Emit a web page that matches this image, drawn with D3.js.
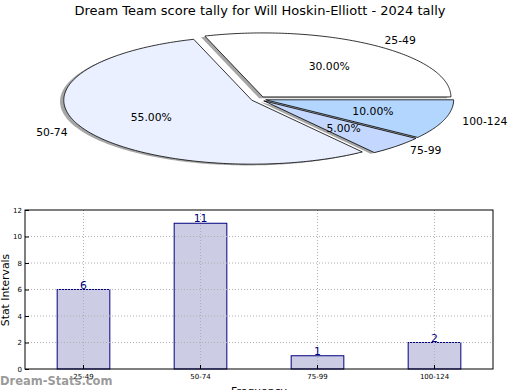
<!DOCTYPE html>
<html><head><meta charset="utf-8">
<script src="https://cdn.jsdelivr.net/npm/d3@7"></script>
<style>body{margin:0;background:#fff}svg{display:block;font-family:"DejaVu Sans",sans-serif}</style>
</head><body>
<svg id="c" width="520" height="390"></svg>
<script>
const categories = ["25-49", "50-74", "75-99", "100-124"];
const counts = [6, 11, 1, 2];
const pieColors = ["#ffffff", "#eaf0ff", "#c4d8ff", "#b3d6ff"];
const yTicks = [0, 2, 4, 6, 8, 10, 12];
const titleText = "Dream Team score tally for Will Hoskin-Elliott - 2024 tally";

const svg = d3.select("#c");
svg.append("text").attr("x", 260).attr("y", 15).attr("text-anchor", "middle")
  .attr("font-size", 13).text(titleText);

// ---- Pie ----
const cx = 258.5, cy = 99, rx = 188, ry = 64, explode = 0.04;
const px = d3.scaleLinear().domain([-1, 1]).range([cx - rx, cx + rx]);
const py = d3.scaleLinear().domain([-1, 1]).range([cy + ry, cy - ry]);
const total = d3.sum(counts);
const arcs = d3.pie().sort(null).startAngle(0).endAngle(2 * Math.PI)(counts);
const line = d3.line().x(d => px(d[0])).y(d => py(d[1]));
function wedgePts(a, ox, oy) {
  const mid = (a.startAngle + a.endAngle) / 2;
  const vx = explode * Math.cos(mid) + ox, vy = explode * Math.sin(mid) + oy;
  const pts = [[vx, vy]];
  const n = Math.max(4, Math.ceil((a.endAngle - a.startAngle) * 60));
  for (let i = 0; i <= n; i++) {
    const t = a.startAngle + (a.endAngle - a.startAngle) * i / n;
    pts.push([vx + Math.cos(t), vy + Math.sin(t)]);
  }
  pts.push([vx, vy]);
  return pts;
}
const pieG = svg.append("g");
arcs.forEach((a, i) => {
  pieG.append("path").attr("d", line(wedgePts(a, -0.02, -0.02)) + "Z")
    .attr("fill", "#4d4d4d").attr("fill-opacity", 0.5).attr("stroke", "none");
});
arcs.forEach((a, i) => {
  pieG.append("path").attr("d", line(wedgePts(a, 0, 0)) + "Z")
    .attr("fill", pieColors[i]).attr("stroke", "#000").attr("stroke-width", 0.8)
    .attr("stroke-linejoin", "round");
});
arcs.forEach((a, i) => {
  const mid = (a.startAngle + a.endAngle) / 2;
  const vx = explode * Math.cos(mid), vy = explode * Math.sin(mid);
  const lx = vx + 1.1 * Math.cos(mid), ly = vy + 1.1 * Math.sin(mid);
  pieG.append("text").attr("x", px(lx)).attr("y", py(ly)).attr("dy", "0.35em")
    .attr("text-anchor", lx > 0 ? "start" : "end").attr("font-size", 10.8)
    .text(categories[i]);
  const tx = vx + 0.6 * Math.cos(mid), ty = vy + 0.6 * Math.sin(mid);
  pieG.append("text").attr("x", px(tx)).attr("y", py(ty)).attr("dy", "0.35em")
    .attr("text-anchor", "middle").attr("font-size", 10.8)
    .text((counts[i] / total * 100).toFixed(2) + "%");
});

// ---- Bars ----
const L = 25, R = 493, T = 210, B = 369;
const x = d3.scaleBand().domain(categories).range([L, R]).paddingInner(0.55).paddingOuter(0.275);
const y = d3.scaleLinear().domain([0, 12]).range([B, T]);
const g = svg.append("g");
g.selectAll(".bar").data(categories).join("rect")
  .attr("x", d => x(d)).attr("width", x.bandwidth())
  .attr("y", (d, i) => y(counts[i])).attr("height", (d, i) => B - y(counts[i]))
  .attr("fill", "#ccccE5").attr("stroke", "#000080").attr("stroke-width", 1);
// grid (drawn above bars, as in the reference)
g.selectAll(".hg").data(yTicks.slice(1, -1)).join("line")
  .attr("x1", L).attr("x2", R).attr("y1", d => y(d)).attr("y2", d => y(d))
  .attr("stroke", "#b0b0b0").attr("stroke-dasharray", "1,2");
g.selectAll(".vg").data(categories).join("line")
  .attr("x1", d => x(d) + x.bandwidth() / 2).attr("x2", d => x(d) + x.bandwidth() / 2)
  .attr("y1", T).attr("y2", B)
  .attr("stroke", "#b0b0b0").attr("stroke-dasharray", "1,2");
g.selectAll(".val").data(categories).join("text")
  .attr("x", d => x(d) + x.bandwidth() / 2).attr("y", (d, i) => y(counts[i]) - 1)
  .attr("text-anchor", "middle").attr("font-size", 10.8).attr("fill", "#000080")
  .text((d, i) => counts[i]);
// frame
g.append("rect").attr("x", L).attr("y", T).attr("width", R - L).attr("height", B - T)
  .attr("fill", "none").attr("stroke", "#000").attr("stroke-width", 1);
// axes
const ya = d3.axisLeft(y).tickValues(yTicks).tickSize(-4).tickPadding(3);
svg.append("g").attr("transform", `translate(${L},0)`).call(ya)
  .call(s => s.select(".domain").remove())
  .call(s => s.selectAll("text").attr("font-size", 7).attr("font-family", "DejaVu Sans"))
  .call(s => s.selectAll("line").attr("stroke", "#000"));
const xa = d3.axisBottom(x).tickSize(-4).tickPadding(5);
svg.append("g").attr("transform", `translate(0,${B})`).call(xa)
  .call(s => s.select(".domain").remove())
  .call(s => s.selectAll("text").attr("font-size", 7).attr("font-family", "DejaVu Sans"))
  .call(s => s.selectAll("line").attr("stroke", "#000"));
svg.append("text").attr("transform", "translate(9,290) rotate(-90)")
  .attr("text-anchor", "middle").attr("font-size", 10.8).text("Stat Intervals");
svg.append("text").attr("x", 259).attr("y", 395).attr("text-anchor", "middle")
  .attr("font-size", 10.8).text("Frequency");
svg.append("text").attr("x", 0).attr("y", 385).attr("font-size", 11.5)
  .attr("font-weight", "bold").attr("fill", "#808080").attr("fill-opacity", 0.8)
  .text("Dream-Stats.com");
</script>
</body></html>
